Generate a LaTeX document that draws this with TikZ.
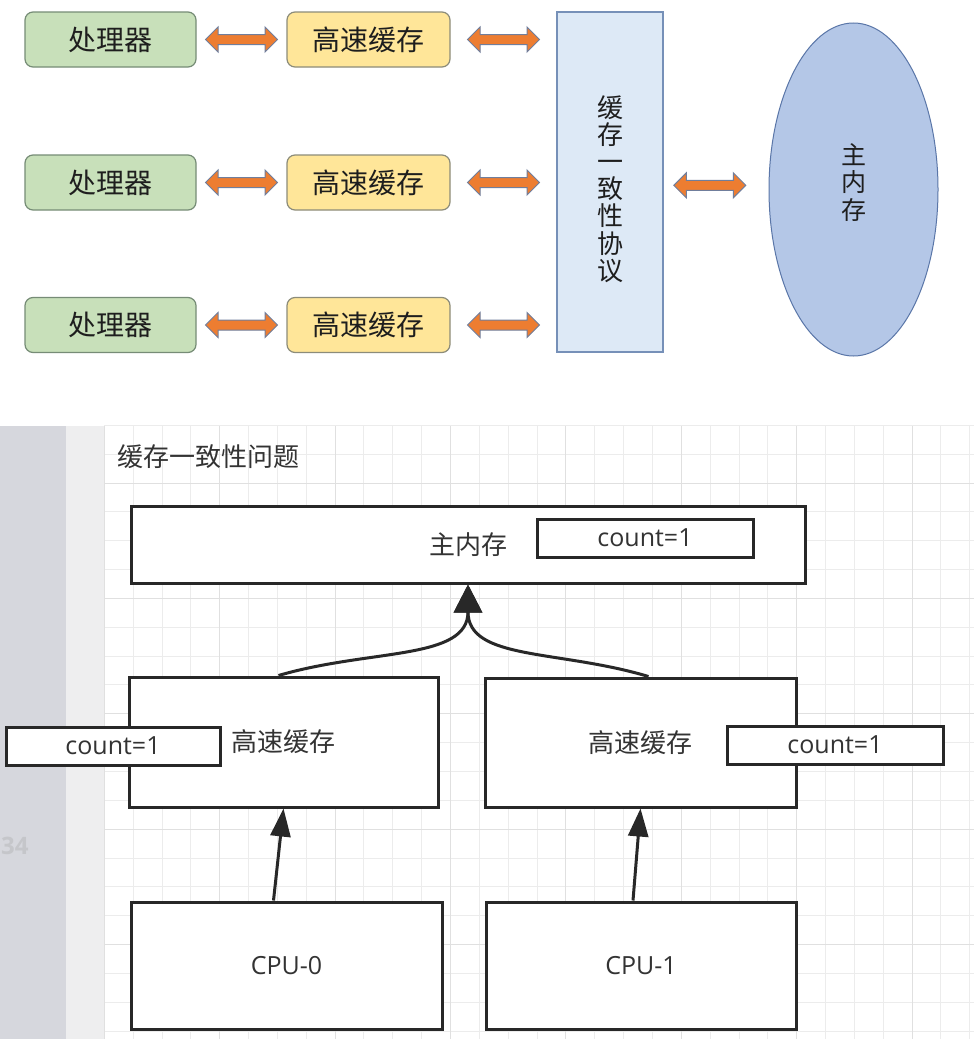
\documentclass[tikz,border=0pt]{standalone}
\usepackage{fontspec}
\setmainfont{Open Sans}
\newfontfamily\cjk{Noto Sans CJK SC}
\usepackage{xcolor}
\usetikzlibrary{shapes.geometric,shapes.arrows,calc,arrows.meta}

\definecolor{procfill}{RGB}{200,224,186}
\definecolor{procline}{RGB}{118,140,118}
\definecolor{cachefill}{RGB}{255,230,153}
\definecolor{cacheline}{RGB}{140,140,122}
\definecolor{protofill}{RGB}{221,233,246}
\definecolor{protoline}{RGB}{118,144,184}
\definecolor{memfill}{RGB}{180,199,231}
\definecolor{memline}{RGB}{90,118,168}
\definecolor{arroworange}{RGB}{237,125,49}
\definecolor{arrowedge}{RGB}{112,126,156}
\definecolor{toptext}{RGB}{30,30,30}
\definecolor{stripgray}{RGB}{214,215,221}
\definecolor{striplight}{RGB}{238,238,239}
\definecolor{gridminor}{RGB}{236,236,236}
\definecolor{gridmajor}{RGB}{224,224,224}
\definecolor{boxline}{RGB}{40,40,40}
\definecolor{boxtext}{RGB}{51,51,51}

\begin{document}
\begin{tikzpicture}[x=1pt,y=1pt,
	proc/.style={draw=procline, fill=procfill, rounded corners=8pt, line width=1.2pt,
		minimum width=171pt, minimum height=55pt, inner sep=0pt, text=toptext,
		font=\cjk\fontsize{28}{32}\selectfont},
	cachebox/.style={proc, draw=cacheline, fill=cachefill, minimum width=163pt},
	vtext/.style={inner sep=0pt, align=center, text=toptext},
	dblarrow/.style={double arrow, draw=arrowedge, fill=arroworange, line width=1pt,
		minimum height=72pt, minimum width=24pt, double arrow head extend=7.5pt,
		double arrow head indent=0pt, inner xsep=0pt, inner ysep=4.5pt},
	box/.style={draw=boxline, fill=white, line width=3pt, inner sep=0pt, text=boxtext,
		font=\cjk\fontsize{26}{30}\selectfont},
	countbox/.style={box, minimum height=38pt, font=\fontsize{25}{30}\selectfont},
	link/.style={draw=boxline, line width=3pt, -{Triangle[length=28pt,width=20pt]}},
	joinlink/.style={link, -{Triangle[length=28pt,width=28pt]}}
]
	\useasboundingbox (0,0) rectangle (974,-1044);
	\fill[white] (0,0) rectangle (974,-1044);

	% processors and caches
	\foreach \r/\y in {1/39.5,2/182.5,3/325} {
		\node[proc] (p\r) at (110.5,-\y) {处理器};
		\node[cachebox] (c\r) at (368.5,-\y) {高速缓存};
	}
	\node[proc, draw=protoline, fill=protofill, rounded corners=0pt, minimum width=106pt,
		minimum height=340pt] (proto) at (610,-182) {};
	\node[vtext, font=\cjk\fontsize{26}{27.2}\selectfont] (protolabel)
		at ($(proto.center)+(0,-7)$) {缓\\存\\一\\致\\性\\协\\议};
	\node[ellipse, draw=memline, fill=memfill, line width=1pt, minimum width=169pt,
		minimum height=333pt, inner sep=0pt] (mm) at (853.5,-189.5) {};
	\node[vtext, font=\cjk\fontsize{25}{27.5}\selectfont] (mmlabel)
		at ($(mm.center)+(0,7)$) {主\\内\\存};

	\foreach \r in {1,2,3} {
		\node[dblarrow] (a\r) at ($(p\r.east)!0.5!(c\r.west)$) {};
		\node[dblarrow] (b\r) at ($(c\r.east)!0.5!(c\r.east -| proto.west)$) {};
	}
	\node[dblarrow] (m) at ($(proto.east)!0.44!(mm.west)$) {};

	% sheet with grid
	\fill[stripgray] (0,-426) rectangle (66,-1039);
	\fill[striplight] (66,-426) rectangle (104,-1039);
	\foreach \k in {0,...,30}
		\draw[gridminor] ({104+28.85*\k},-426) -- ({104+28.85*\k},-1039);
	\foreach \k in {0,...,21}
		\draw[gridminor] (104,{-425-28.85*\k}) -- (974,{-425-28.85*\k});
	\foreach \k in {0,4,...,28}
		\draw[gridmajor] ({104+28.85*\k},-426) -- ({104+28.85*\k},-1039);
	\foreach \k in {2,6,...,18}
		\draw[gridmajor] (104,{-425-28.85*\k}) -- (974,{-425-28.85*\k});
	\node[anchor=west, inner sep=0pt, text=stripgray!80!gray, font=\bfseries\fontsize{24}{30}\selectfont]
		(line) at (1,-846) {34};

	\node[anchor=west, inner sep=0pt, text=boxtext, font=\cjk\fontsize{26}{30}\selectfont]
		(title) at (117,-457) {缓存一致性问题};

	\node[box, minimum width=674pt, minimum height=77pt] (mem) at (468,-544.5) {主内存};
	\node[countbox, minimum width=216pt] (memcount) at (645,-538) {count=1};

	\node[box, minimum width=309pt, minimum height=130pt] (h0) at (283.5,-742) {高速缓存};
	\node[box, minimum width=311pt, minimum height=129pt] (h1) at (640.5,-742.5) {高速缓存};
	\node[countbox, minimum width=214pt] (hc0) at (113,-746) {count=1};
	\node[countbox, minimum width=216pt] (hc1) at (835,-745) {count=1};

	\node[box, minimum width=311pt, minimum height=127pt, font=\fontsize{25}{30}\selectfont]
		(cpu0) at (286.5,-965.5) {CPU-0};
	\node[box, minimum width=310pt, minimum height=127pt, font=\fontsize{25}{30}\selectfont]
		(cpu1) at (641,-965.5) {CPU-1};

	\draw[link] ([xshift=-13pt]cpu0.north) -- (h0.south);
	\draw[link] ([xshift=-8pt]cpu1.north) -- (h1.south);
	\draw[joinlink] ([xshift=-5pt]h0.north) .. controls +(92,27) and +(0,-76) .. (mem.south);
	\draw[joinlink] ([xshift=8pt]h1.north) .. controls +(-90,27) and +(0,-76) .. (mem.south);
\end{tikzpicture}
\end{document}
